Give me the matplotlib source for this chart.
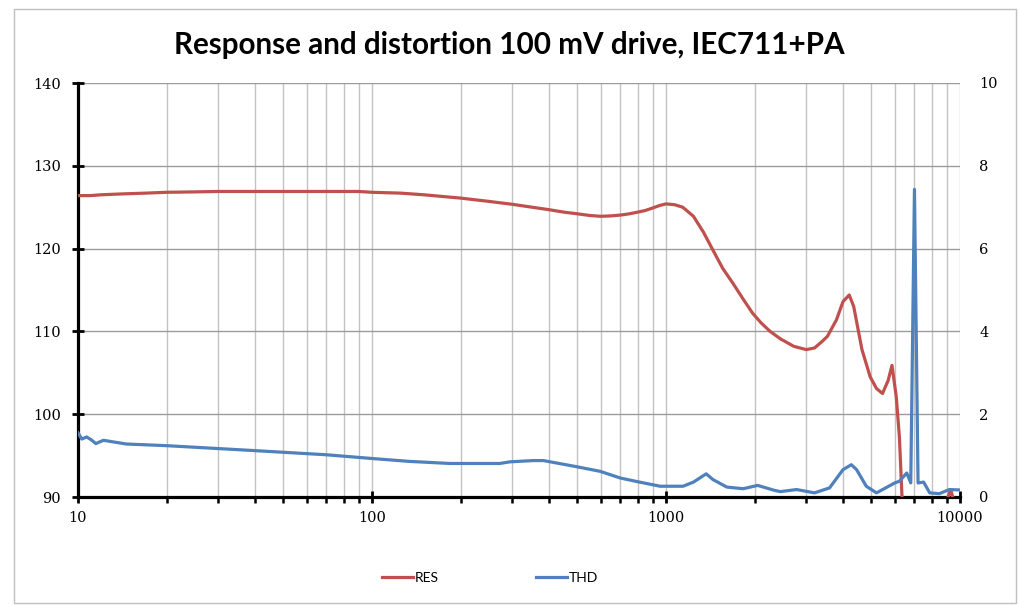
import matplotlib
matplotlib.use("Agg")
import matplotlib.pyplot as plt
from matplotlib.patches import Rectangle
from matplotlib.ticker import FixedLocator, NullFormatter, LogLocator

# Frequency response (dB, left axis)
res_freq = [10, 11, 12, 14, 17, 20, 25, 30, 40, 50, 60, 70, 80, 90, 100, 125, 150,
            200, 250, 300, 350, 400, 450, 500, 550, 600, 650, 700, 750, 800, 850,
            900, 950, 1000, 1070, 1140, 1240, 1340, 1445, 1560, 1690, 1830, 1970,
            2110, 2260, 2450, 2720, 3000, 3200, 3400, 3540, 3800, 4000, 4200, 4350,
            4640, 4950, 5200, 5450, 5700, 5870, 6070, 6220, 6350, 6600, 7000, 8000,
            8800, 9000, 9300, 9600, 10000]
res_db = [126.4, 126.4, 126.5, 126.6, 126.7, 126.8, 126.85, 126.9, 126.9, 126.9,
          126.9, 126.9, 126.9, 126.9, 126.8, 126.7, 126.5, 126.1, 125.7, 125.35,
          125.0, 124.7, 124.4, 124.2, 124.0, 123.9, 123.95, 124.05, 124.2, 124.4,
          124.6, 124.9, 125.2, 125.4, 125.3, 125.0, 123.9, 122.0, 119.8, 117.6,
          115.8, 113.9, 112.2, 111.0, 110.0, 109.1, 108.2, 107.8, 108.0, 108.8,
          109.4, 111.4, 113.6, 114.4, 113.0, 107.8, 104.5, 103.1, 102.5, 104.1,
          105.9, 102.1, 97.3, 90.0, 84.0, 80.0, 82.0, 88.0, 89.5, 90.9, 89.0, 88.0]

# Total harmonic distortion (%, right axis)
thd_freq = [10, 10.3, 10.7, 11.1, 11.5, 12.2, 13.2, 14.6, 20, 30, 40, 50, 70, 100,
            134, 184, 272, 295, 354, 383, 498, 597, 698, 800, 955, 1143, 1240, 1370,
            1445, 1610, 1830, 2050, 2340, 2450, 2780, 3200, 3600, 4000, 4270, 4450,
            4800, 5200, 6000, 6220, 6590, 6800, 7000, 7200, 7520, 7890, 8500, 9200,
            10000]
thd_pct = [1.55, 1.4, 1.45, 1.38, 1.29, 1.37, 1.33, 1.28, 1.24, 1.17, 1.12, 1.08,
           1.02, 0.93, 0.86, 0.81, 0.81, 0.85, 0.88, 0.88, 0.73, 0.62, 0.46, 0.37,
           0.26, 0.26, 0.36, 0.56, 0.42, 0.24, 0.2, 0.28, 0.16, 0.13, 0.18, 0.1,
           0.22, 0.66, 0.78, 0.66, 0.26, 0.1, 0.34, 0.38, 0.58, 0.34, 7.43, 0.34,
           0.36, 0.1, 0.08, 0.18, 0.17]

title = "Response and distortion 100 mV drive, IEC711+PA"
x_ticks = [10, 100, 1000, 10000]
left_ticks = [90, 100, 110, 120, 130, 140]
right_ticks = [0, 2, 4, 6, 8, 10]

RED = "#C0504D"
BLUE = "#4F81BD"
VGRID = "#C2C2C2"
HGRID = "#9C9C9C"
TICKFONT = dict(family="DejaVu Serif", size=10.5)

fig = plt.figure(figsize=(10.19, 6.05), dpi=100)
fig.patches.append(Rectangle((14 / 1019, 1 - 603 / 605), 1002 / 1019, 594 / 605,
                             transform=fig.transFigure, fill=False,
                             edgecolor="#BFBFBF", lw=1.0))

ax = fig.add_axes([78 / 1019, 1 - 497 / 605, 882 / 1019, 414 / 605])
ax.set_xscale("log")
ax.set_xlim(10, 10000)
ax.set_ylim(90, 140)

ax.xaxis.set_major_locator(FixedLocator(x_ticks))
ax.xaxis.set_minor_locator(LogLocator(base=10, subs=range(2, 10)))
ax.xaxis.set_minor_formatter(NullFormatter())
ax.set_xticklabels([str(t) for t in x_ticks], **TICKFONT)
ax.set_yticks(left_ticks)
ax.set_yticklabels([str(t) for t in left_ticks], **TICKFONT)

ax.grid(True, which="both", axis="x", color=VGRID, lw=1.0)
ax.grid(True, which="major", axis="y", color=HGRID, lw=1.0)
ax.set_axisbelow(True)

for s in ("top", "right"):
    ax.spines[s].set_visible(False)
for s in ("left", "bottom"):
    ax.spines[s].set_linewidth(2.3)
    ax.spines[s].set_color("black")

ax.tick_params(axis="x", which="major", direction="inout", length=8, width=2.0,
               pad=6, colors="black")
ax.tick_params(axis="x", which="minor", direction="out", length=4, width=1.8,
               colors="black")
ax.tick_params(axis="y", which="major", direction="inout", length=9, width=2.0,
               pad=8, colors="black")

l_res, = ax.plot(res_freq, res_db, color=RED, lw=2.3, label="RES", zorder=3)

ax2 = ax.twinx()
ax2.set_ylim(0, 10)
ax2.set_yticks(right_ticks)
ax2.set_yticklabels([str(t) for t in right_ticks], **TICKFONT)
for s in ax2.spines.values():
    s.set_visible(False)
ax2.tick_params(axis="y", length=0, pad=14, colors="black")
l_thd, = ax2.plot(thd_freq, thd_pct, color=BLUE, lw=2.3, label="THD", zorder=3)

fig.text(0.5, 1 - 45 / 605, title, ha="center", va="center",
         family="Lato", weight="bold", size=21.3, color="black")

fig.legend(handles=[l_res, l_thd], loc="center", bbox_to_anchor=(490 / 1019, 1 - 578 / 605),
           ncol=2, frameon=False, prop=dict(family="Lato", size=10),
           handlelength=2.2, handletextpad=0.15, columnspacing=7.0)

fig.savefig("out.png", dpi=100)
